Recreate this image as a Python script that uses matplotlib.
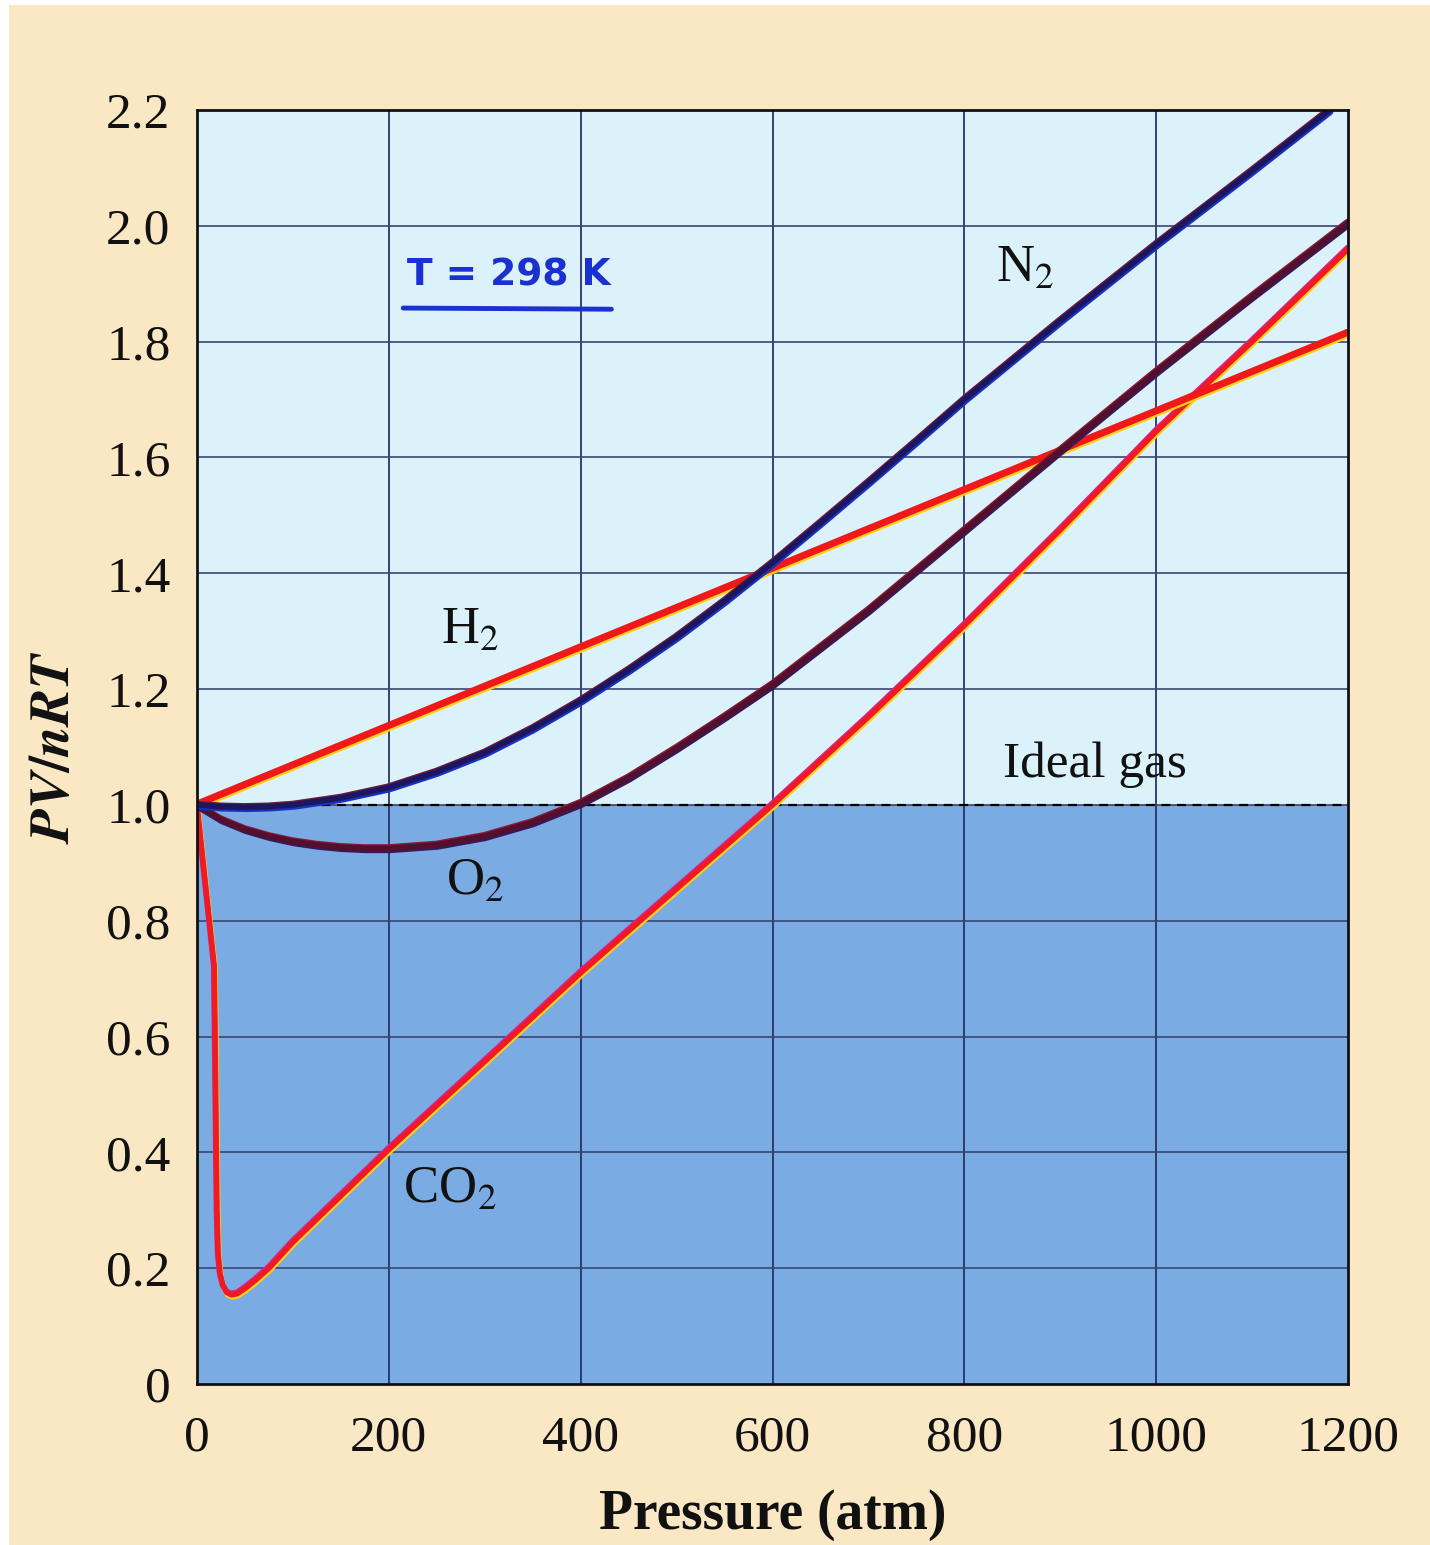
import matplotlib
matplotlib.use("Agg")
import matplotlib.pyplot as plt
import matplotlib.patheffects as pe
from matplotlib.patches import Rectangle

plt.rcParams['font.family'] = ['Liberation Serif', 'DejaVu Serif']
plt.rcParams['mathtext.fontset'] = 'stix'

# PV/nRT against pressure at 298 K
h2_p = [0, 1200]
h2_z = [1.0, 1.815]

n2_p = [0, 25, 50, 75, 100, 150, 200, 250, 300, 350, 400, 450, 500, 550,
        600, 650, 700, 750, 800, 900, 1000, 1100, 1181]
n2_z = [1.0, 0.997, 0.996, 0.997, 1.0, 1.012, 1.03, 1.057, 1.09, 1.132, 1.18,
        1.233, 1.29, 1.352, 1.418, 1.487, 1.557, 1.628, 1.70, 1.836, 1.968,
        2.095, 2.2]

o2_p = [0, 25, 50, 75, 100, 125, 150, 175, 200, 250, 300, 350, 400, 450,
        500, 550, 600, 700, 800, 900, 1000, 1100, 1200]
o2_z = [1.0, 0.975, 0.958, 0.946, 0.937, 0.931, 0.927, 0.925, 0.925, 0.931,
        0.946, 0.97, 1.003, 1.047, 1.098, 1.152, 1.208, 1.336, 1.474, 1.612,
        1.748, 1.878, 2.005]

co2_p = [0, 9, 18, 19.2, 20, 20.8, 22, 24, 27, 31, 36, 42, 50, 60, 75, 100,
         150, 200, 300, 400, 500, 600, 700, 800, 900, 1000, 1100, 1200]
co2_z = [1.0, 0.86, 0.72, 0.55, 0.42, 0.3, 0.225, 0.19, 0.17, 0.158, 0.154,
         0.156, 0.165, 0.178, 0.2, 0.245, 0.325, 0.405, 0.557, 0.71, 0.855,
         1.0, 1.152, 1.31, 1.475, 1.645, 1.80, 1.96]

x_ticks = [0, 200, 400, 600, 800, 1000, 1200]
y_ticks = [0, 0.2, 0.4, 0.6, 0.8, 1.0, 1.2, 1.4, 1.6, 1.8, 2.0, 2.2]
y_labels = ['0', '0.2', '0.4', '0.6', '0.8', '1.0', '1.2', '1.4', '1.6',
            '1.8', '2.0', '2.2']

fig = plt.figure(figsize=(14.3, 15.45), dpi=100)
fig.patch.set_facecolor('white')
fig.add_artist(Rectangle((9 / 1430, 0), 1, 1 - 5 / 1545,
                         transform=fig.transFigure, facecolor='#fae8c4',
                         edgecolor='none', zorder=0))

ax = fig.add_axes([197 / 1430, 161 / 1545, 1151 / 1430, 1274 / 1545])
ax.set_facecolor('#dcf2fa')
ax.set_xlim(0, 1200)
ax.set_ylim(0, 2.2)
ax.axhspan(0, 1.0, color='#7aabe2', zorder=0)

for x in x_ticks[1:-1]:
    ax.axvline(x, color='#283468', lw=1.3, zorder=1)
for y in y_ticks[1:-1]:
    ax.axhline(y, color='#3a4470', lw=1.2, zorder=1)

ax.plot([0, 1200], [1.0, 1.0], color='black', lw=1.6, dashes=(4, 3), zorder=2)


def curve(p, z, color, edge_lo, edge_hi):
    effects = [
        pe.SimpleLineShadow(offset=(0.6, -1.5), shadow_color=edge_lo, alpha=1.0),
        pe.SimpleLineShadow(offset=(-0.4, 1.0), shadow_color=edge_hi, alpha=1.0),
        pe.Normal(),
    ]
    ax.plot(p, z, color=color, lw=4.0, solid_capstyle='round',
            solid_joinstyle='round', path_effects=effects, zorder=3)


curve(co2_p, co2_z, '#ee1a26', '#ffd21a', '#e0208a')
curve(h2_p, h2_z, '#f01818', '#ffd21a', '#f01818')
curve(o2_p, o2_z, '#52102c', '#3a1858', '#8a1838')
curve(n2_p, n2_z, '#1a1660', '#1a30c0', '#6a1840')

lbl = dict(fontsize=38, color='#111111', ha='center', va='center', zorder=4)
ax.text(863, 1.925, r'N$_2$', **lbl)
ax.text(285, 1.30, r'H$_2$', **lbl)
ax.text(290, 0.867, r'O$_2$', **lbl)
ax.text(264, 0.335, r'CO$_2$', **lbl)
ax.text(936, 1.07, 'Ideal gas', fontsize=37, color='#111111',
        ha='center', va='center', zorder=4)

# handwritten temperature note
ax.text(325, 1.915, 'T = 298 K', family='DejaVu Sans', fontweight='bold',
        fontsize=27, color='#1a30d0', ha='center', va='center', zorder=4)
ax.plot([215, 432], [1.858, 1.856], color='#1a30d0', lw=3.5,
        solid_capstyle='round', zorder=4)

ax.set_xticks(x_ticks)
ax.set_xticklabels([str(v) for v in x_ticks])
ax.set_yticks(y_ticks)
ax.set_yticklabels(y_labels)
ax.tick_params(length=0, labelsize=37, colors='#111111')
ax.tick_params(axis='x', pad=22)
ax.tick_params(axis='y', pad=19)
for s in ax.spines.values():
    s.set_linewidth(2)
    s.set_color('#111111')
    s.set_zorder(5)

ax.set_xlabel('Pressure (atm)', fontsize=40, fontweight='bold',
              color='#111111', labelpad=20)
ax.set_ylabel(r'$\boldsymbol{PV/nRT}$', fontsize=40, color='#111111',
              labelpad=18)

fig.savefig('out.png', dpi=100)
